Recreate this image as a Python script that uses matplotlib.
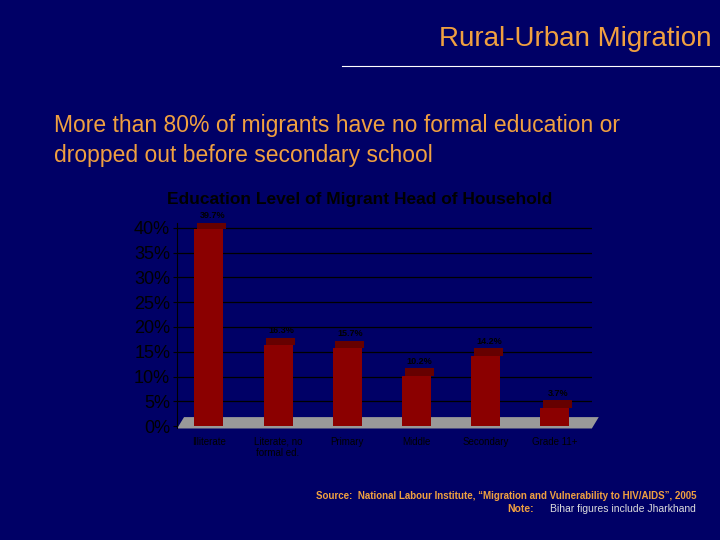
import matplotlib
matplotlib.use("Agg")
import matplotlib.pyplot as plt
from matplotlib.patches import Polygon

categories = ["Illiterate", "Literate, no\nformal ed.", "Primary", "Middle", "Secondary", "Grade 11+"]
values = [39.7, 16.3, 15.7, 10.2, 14.2, 3.7]
labels = ["39.7%", "16.3%", "15.7%", "10.2%", "14.2%", "3.7%"]
yticks = [0, 5, 10, 15, 20, 25, 30, 35, 40]

bg = "#000066"
orange = "#F0A040"
fig = plt.figure(figsize=(7.2, 5.4), dpi=100, facecolor=bg)
plt.rcParams['font.family'] = ['Liberation Sans', 'DejaVu Sans']

fig.text(0.988, 0.928, "Rural-Urban Migration", ha="right", va="center", color=orange, fontsize=20)
fig.add_artist(plt.Line2D([0.475, 1.0], [0.877, 0.877], color="white", lw=0.8))
fig.text(0.075, 0.74, "More than 80% of migrants have no formal education or\ndropped out before secondary school",
         ha="left", va="center", color=orange, fontsize=16.5, linespacing=1.4)
fig.text(0.5, 0.63, "Education Level of Migrant Head of Household", ha="center", va="center",
         color="black", fontsize=12.5, fontweight="bold")
fig.text(0.967, 0.082, "Source:  National Labour Institute, \u201cMigration and Vulnerability to HIV/AIDS\u201d, 2005",
         ha="right", va="center", color=orange, fontsize=7, fontweight="bold")
fig.text(0.742, 0.057, "Note:", ha="right", va="center", color=orange, fontsize=7.5, fontweight="bold")
fig.text(0.966, 0.057, "Bihar figures include Jharkhand", ha="right", va="center", color="#dddddd", fontsize=7.5)

ax = fig.add_axes([0.246, 0.2065, 0.576, 0.3805])
ax.set_facecolor(bg)
ax.set_xlim(-0.46, 5.54)
ax.set_ylim(-0.5, 41)
for y in yticks[1:]:
    ax.axhline(y, color="black", lw=0.9, zorder=0)
ax.add_patch(Polygon([[-0.46, -0.5], [5.54, -0.5], [5.64, 1.8], [-0.36, 1.8]], closed=True,
                     facecolor="#999999", edgecolor="none", zorder=1, clip_on=False))
x = list(range(len(categories)))
ax.bar(x, values, width=0.42, color="#8B0000", zorder=2)
ax.bar([i + 0.04 for i in x], [1.5] * len(x), bottom=values, width=0.42, color="#660000", zorder=2)
for i, (v, l) in enumerate(zip(values, labels)):
    ax.text(i + 0.05, v + 2.0, l, ha="center", va="bottom", fontsize=6.5, color="black", fontweight="bold")
ax.set_yticks(yticks)
ax.set_yticklabels([f"{t}%" for t in yticks], color="black", fontsize=13)
ax.set_xticks(x)
ax.set_xticklabels(categories, color="black", fontsize=7, va="top")
ax.tick_params(axis="x", length=0, pad=6)
ax.tick_params(axis="y", length=3, color="black", pad=2)
for s in ["top", "right", "bottom"]:
    ax.spines[s].set_visible(False)
ax.spines["left"].set_color("black")

fig.savefig("out.png", dpi=100, facecolor=bg)
